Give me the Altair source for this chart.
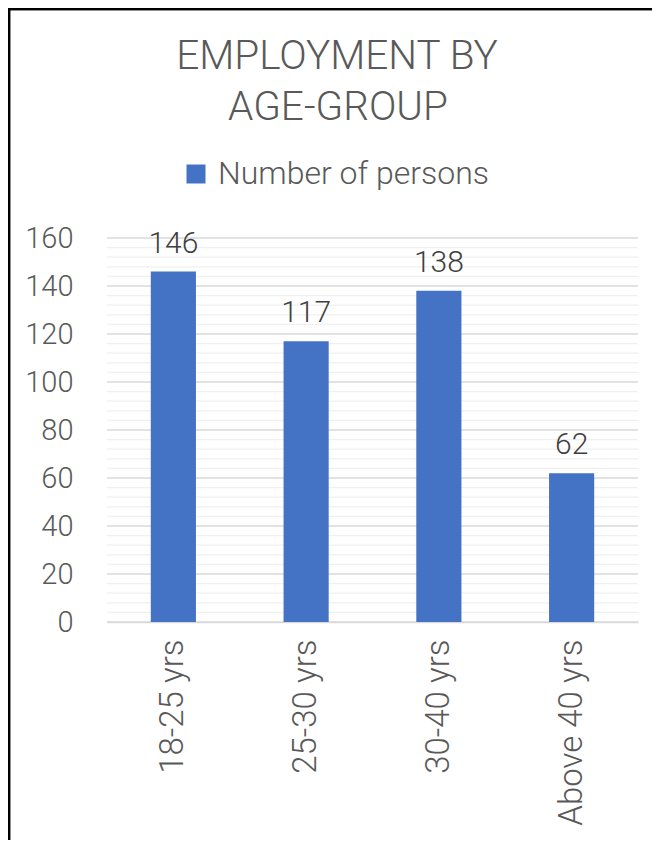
import altair as alt
import pandas as pd

categories = ["18-25 yrs", "25-30 yrs", "30-40 yrs", "Above 40 yrs"]
values = [146, 117, 138, 62]
series_name = "Number of persons"
title_lines = ["EMPLOYMENT BY", "AGE-GROUP"]
major_ticks = [0, 20, 40, 60, 80, 100, 120, 140, 160]
minor_ticks = [v for v in range(0, 161, 4) if v % 20 != 0]

df = pd.DataFrame({"age": categories, "persons": values, "series": [series_name] * len(categories)})
major_df = pd.DataFrame({"v": major_ticks})
minor_df = pd.DataFrame({"v": minor_ticks})

FONT = "Roboto"
GRAY = "#595959"
BLUE = "#4472C4"
W, H = 531, 384

yscale = alt.Scale(domain=[0, 160], nice=False)
yaxis = alt.Axis(values=major_ticks, labelOverlap=False, labelFontSize=29, labelColor=GRAY,
                 labelFont=FONT, labelFontWeight=300, labelPadding=34, ticks=False,
                 domain=False, grid=False)

x_enc = alt.X("age:N", sort=categories, title=None,
              scale=alt.Scale(paddingInner=0.66, paddingOuter=0.33),
              axis=alt.Axis(labelAngle=-90, labelFontSize=33, labelColor=GRAY, labelFont=FONT,
                            labelFontWeight=300, labelPadding=17, ticks=False, labelLimit=400,
                            domainColor="#d9d9d9", domainWidth=1.5))

minor = alt.Chart(minor_df).mark_rule(color="#f0f0f0", strokeWidth=1.3).encode(
    y=alt.Y("v:Q", scale=yscale, title=None, axis=yaxis))
major = alt.Chart(major_df).mark_rule(color="#d9d9d9", strokeWidth=1.3).encode(
    y=alt.Y("v:Q", scale=yscale, title=None, axis=yaxis))

bars = alt.Chart(df).mark_bar(color=BLUE).encode(
    x=x_enc, y=alt.Y("persons:Q", title=None, scale=yscale, axis=yaxis),
    color=alt.Color("series:N", scale=alt.Scale(range=[BLUE]),
                    legend=alt.Legend(title=None, orient="none", legendX=73, legendY=-80,
                                      symbolType="square", symbolSize=361, symbolStrokeWidth=0,
                                      labelFontSize=32, labelColor=GRAY, labelFont=FONT,
                                      labelFontWeight=300, labelOffset=6, padding=0,
                                      labelLimit=500)),
)

labels = alt.Chart(df).mark_text(baseline="alphabetic", dy=-19, fontSize=30, color="#404040",
                                 font=FONT, fontWeight=300).encode(
    x=alt.X("age:N", sort=categories), y=alt.Y("persons:Q", scale=yscale, axis=yaxis),
    text="persons:Q")

tdf = pd.DataFrame({"line": title_lines})
t1 = alt.Chart(tdf).transform_filter(alt.datum.line == title_lines[0]).mark_text(
    fontSize=40.5, font=FONT, fontWeight=300, color=GRAY, align="center", baseline="alphabetic"
).encode(text="line:N", x=alt.value(230), y=alt.value(-169))
t2 = alt.Chart(tdf).transform_filter(alt.datum.line == title_lines[1]).mark_text(
    fontSize=40.5, font=FONT, fontWeight=300, color=GRAY, align="center", baseline="alphabetic"
).encode(text="line:N", x=alt.value(231), y=alt.value(-118))

border_top = alt.Chart(tdf).mark_rule(color="#000000", strokeWidth=2.5).encode(
    x=alt.value(-99), x2=alt.value(560), y=alt.value(-229))
border_left = alt.Chart(tdf).mark_rule(color="#000000", strokeWidth=2.5).encode(
    x=alt.value(-98), y=alt.value(-230), y2=alt.value(620))

chart = alt.layer(minor, major, bars, labels, t1, t2, border_top, border_left).resolve_scale(
    y="shared").properties(
    width=W, height=H,
    autosize=alt.AutoSizeParams(type="none"),
    padding={"left": 99, "top": 230, "right": 14, "bottom": 218},
).configure_view(stroke=None)

chart.save("out.html", embed_options={"renderer": "svg", "actions": False})
